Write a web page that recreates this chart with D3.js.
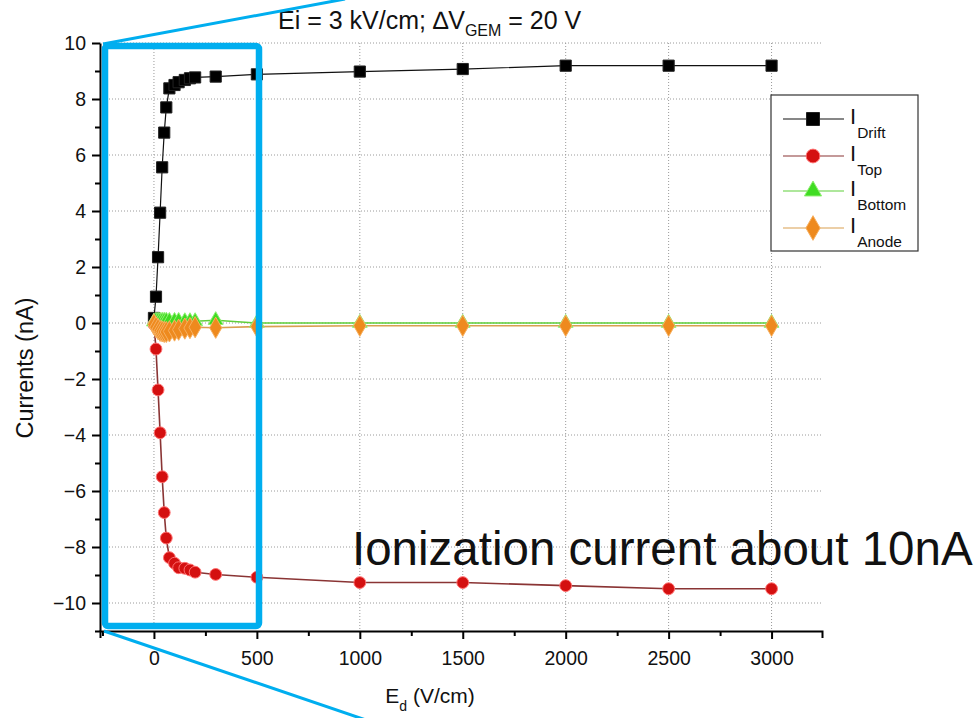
<!DOCTYPE html>
<html>
<head>
<meta charset="utf-8">
<script src="https://cdn.jsdelivr.net/npm/d3@7"></script>
<style>
  html, body { margin: 0; padding: 0; background: #fff; }
  svg { display: block; font-family: "Liberation Sans", Arial, sans-serif; }
</style>
</head>
<body>
<svg id="chart" width="979" height="718"></svg>
<script>
// Drift field values (V/cm)
const driftField = [0, 10, 20, 30, 40, 50, 60, 75, 100, 120, 150, 175, 200, 300, 500, 1000, 1500, 2000, 2500, 3000];
// Currents (nA) per electrode
const iDrift  = [0.18, 0.94, 2.35, 3.94, 5.56, 6.8, 7.7, 8.38, 8.5, 8.6, 8.68, 8.74, 8.77, 8.8, 8.88, 8.98, 9.07, 9.19, 9.19, 9.19];
const iTop    = [-0.05, -0.93, -2.39, -3.92, -5.49, -6.77, -7.68, -8.38, -8.58, -8.74, -8.76, -8.82, -8.9, -8.98, -9.08, -9.27, -9.27, -9.38, -9.49, -9.49];
const iBottom = [0.05, 0.08, 0.08, 0.08, 0.08, 0.08, 0.08, 0.07, 0.07, 0.07, 0.06, 0.06, 0.06, 0.1, 0.0, 0.0, 0.0, 0.0, 0.0, 0.0];
const iAnode  = [-0.05, -0.15, -0.22, -0.28, -0.3, -0.32, -0.32, -0.3, -0.27, -0.24, -0.2, -0.18, -0.15, -0.17, -0.13, -0.1, -0.1, -0.1, -0.1, -0.1];

const xMajorTicks = [0, 500, 1000, 1500, 2000, 2500, 3000];
const xMinorTicks = [-250, 250, 750, 1250, 1750, 2250, 2750];
const yMajorTicks = [-10, -8, -6, -4, -2, 0, 2, 4, 6, 8, 10];
const yMinorTicks = [-11, -9, -7, -5, -3, -1, 1, 3, 5, 7, 9];

const seriesNames = ["Drift", "Top", "Bottom", "Anode"];

const svg = d3.select("#chart");

const x = d3.scaleLinear().domain([-262, 3245]).range([100, 822]);
const y = d3.scaleLinear().domain([-11, 10]).range([631, 43]);

// dotted grid at the major ticks
const grid = svg.append("g").attr("stroke", "#9a9a9a").attr("stroke-width", 1).attr("stroke-dasharray", "1,2");
grid.selectAll("line.v").data(xMajorTicks).join("line")
  .attr("x1", d => x(d)).attr("x2", d => x(d)).attr("y1", y(10)).attr("y2", y(-11));
grid.selectAll("line.h").data(yMajorTicks).join("line")
  .attr("y1", d => y(d)).attr("y2", d => y(d)).attr("x1", x(-262)).attr("x2", x(3245));

// axes
const axisStyle = g => {
  g.select(".domain").attr("stroke", "#000").attr("stroke-width", 2);
  g.selectAll(".tick line").attr("stroke", "#000").attr("stroke-width", 2);
  g.selectAll("text").attr("font-family", "'Liberation Sans', Arial, sans-serif").attr("fill", "#111");
};

const xAxis = svg.append("g").attr("transform", `translate(0,${y(-11)})`)
  .call(d3.axisBottom(x).tickValues(xMajorTicks).tickSizeInner(8).tickSizeOuter(7).tickPadding(12).tickFormat(d3.format("d")))
  .call(axisStyle);
xAxis.selectAll("text").attr("font-size", 19.5);
svg.append("g").attr("transform", `translate(0,${y(-11)})`)
  .call(d3.axisBottom(x).tickValues(xMinorTicks.filter(d => d > -262)).tickSize(5).tickFormat(""))
  .call(g => { g.select(".domain").remove(); g.selectAll("line").attr("stroke", "#000").attr("stroke-width", 2); });

const yAxis = svg.append("g").attr("transform", `translate(${x(-262)},0)`)
  .call(d3.axisLeft(y).tickValues(yMajorTicks).tickSizeInner(8).tickSizeOuter(0).tickPadding(6).tickFormat(d3.format("d")))
  .call(axisStyle);
yAxis.selectAll("text").attr("font-size", 19.5);
svg.append("g").attr("transform", `translate(${x(-262)},0)`)
  .call(d3.axisLeft(y).tickValues(yMinorTicks).tickSize(5).tickFormat(""))
  .call(g => { g.select(".domain").remove(); g.selectAll("line").attr("stroke", "#000").attr("stroke-width", 2); });

// series
const series = [
  { name: "Drift",  values: iDrift,  line: "#111",    fill: "#000",    stroke: "#222",    shape: d3.symbolSquare,   size: 125 },
  { name: "Top",    values: iTop,    line: "#8a3434", fill: "#d41010", stroke: "#ff7070", shape: d3.symbolCircle,   size: 110 },
  { name: "Bottom", values: iBottom, line: "#5fcf3a", fill: "#3fdc22", stroke: "#8ef070", shape: d3.symbolTriangle, size: 95 },
  { name: "Anode",  values: iAnode,  line: "#d9a050", fill: "#ee8a1e", stroke: "#f7b060", shape: d3.symbolDiamond,  size: 130 }
];

const line = d3.line().x(d => x(d[0])).y(d => y(d[1]));

series.forEach(s => {
  const pts = driftField.map((e, i) => [e, s.values[i]]);
  svg.append("path").datum(pts).attr("d", line)
    .attr("fill", "none").attr("stroke", s.line).attr("stroke-width", s.name === "Drift" ? 1.2 : 1.6);
});
series.forEach(s => {
  const pts = driftField.map((e, i) => [e, s.values[i]]);
  svg.append("g").selectAll("path").data(pts).join("path")
    .attr("transform", d => `translate(${x(d[0])},${y(d[1])})`)
    .attr("d", d3.symbol().type(s.shape).size(s.size))
    .attr("fill", s.fill).attr("stroke", s.stroke).attr("stroke-width", 1);
});

// legend
const legend = svg.append("g");
legend.append("rect").attr("x", 771).attr("y", 95).attr("width", 147).attr("height", 156)
  .attr("fill", "#fff").attr("stroke", "#333").attr("stroke-width", 1.2);
const rowY = [119, 156, 191, 228];
series.forEach((s, i) => {
  const g = legend.append("g").attr("transform", `translate(0,${rowY[i]})`);
  g.append("line").attr("x1", 783).attr("x2", 844).attr("y1", 0).attr("y2", 0)
    .attr("stroke", s.line).attr("stroke-width", 1.2);
  g.append("path").attr("transform", "translate(813,0)")
    .attr("d", d3.symbol().type(s.shape).size(s.size * 1.35))
    .attr("fill", s.fill).attr("stroke", s.stroke);
  const t = g.append("text").attr("x", 850).attr("y", 5).attr("font-size", 22).attr("fill", "#111");
  t.append("tspan").text("I");
  t.append("tspan").attr("font-size", 15.5).attr("dx", 1).attr("dy", 14).text(s.name);
});

// title
const title = svg.append("text").attr("x", 278).attr("y", 29).attr("font-size", 25).attr("fill", "#111");
title.append("tspan").text("Ei = 3 kV/cm; \u2206V");
title.append("tspan").attr("font-size", 16).attr("dy", 7).text("GEM");
title.append("tspan").attr("dy", -7).text(" = 20 V");

// axis titles
svg.append("text").attr("transform", `translate(33,368) rotate(-90)`).attr("text-anchor", "middle")
  .attr("font-size", 23.5).attr("fill", "#111").text("Currents (nA)");
const xt = svg.append("text").attr("x", 430).attr("y", 703).attr("text-anchor", "middle")
  .attr("font-size", 21).attr("fill", "#111");
xt.append("tspan").text("E");
xt.append("tspan").attr("font-size", 14).attr("dy", 8).text("d");
xt.append("tspan").attr("dy", -8).text(" (V/cm)");

// highlight box and zoom lines
const blue = "#00aeef";
svg.append("rect").attr("x", x(-262) + 5).attr("y", 46).attr("width", 154).attr("height", 580).attr("rx", 3)
  .attr("fill", "none").attr("stroke", blue).attr("stroke-width", 6.5);
svg.append("line").attr("x1", 103).attr("y1", 44).attr("x2", 345).attr("y2", -1)
  .attr("stroke", blue).attr("stroke-width", 3);
svg.append("line").attr("x1", 104).attr("y1", 631).attr("x2", 366).attr("y2", 720)
  .attr("stroke", blue).attr("stroke-width", 3);

// annotation
svg.append("text").attr("x", 352).attr("y", 565).attr("font-size", 47.5).attr("fill", "#111")
  .text("Ionization current about 10nA");
</script>
</body>
</html>
